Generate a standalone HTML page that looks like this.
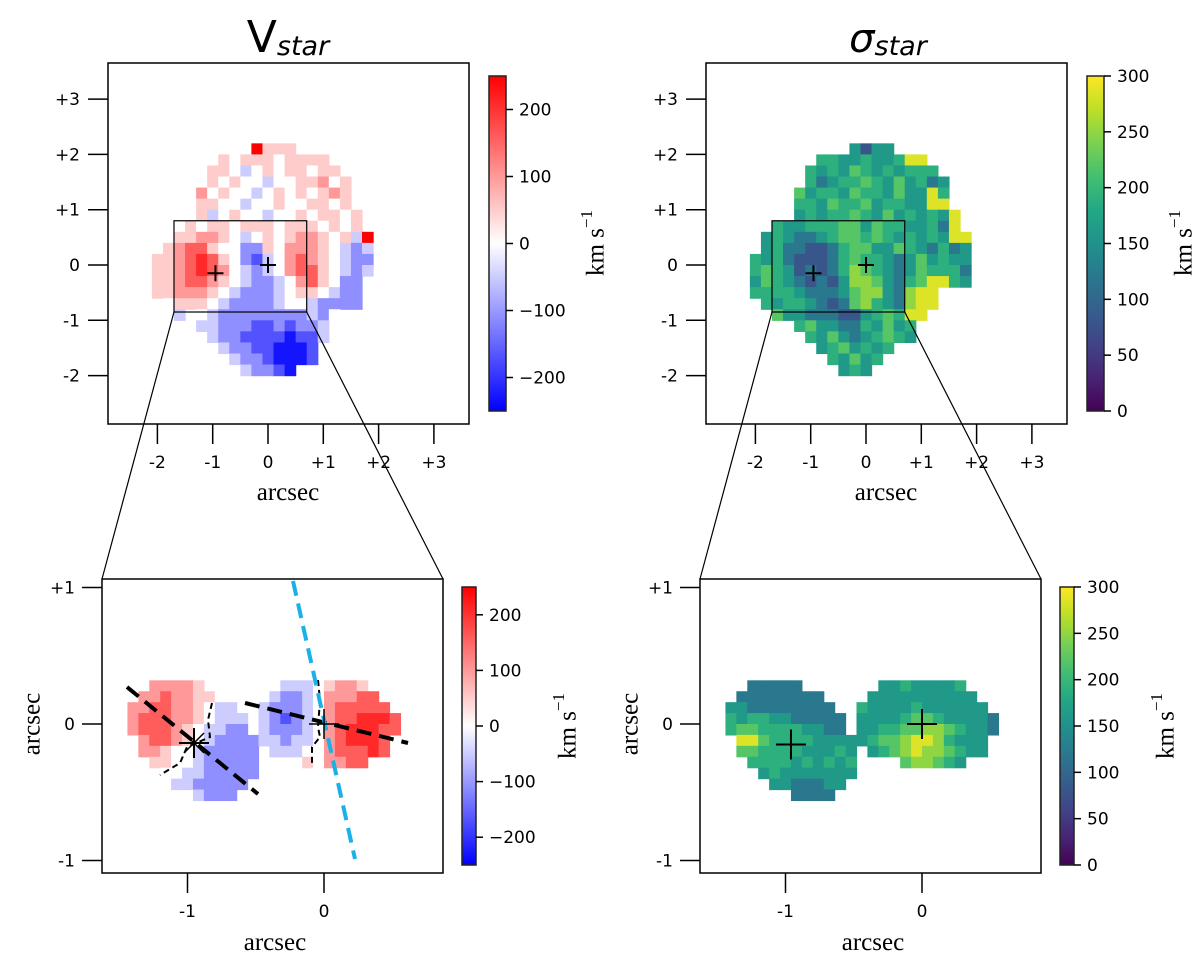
<!DOCTYPE html>
<html><head><meta charset="utf-8"><style>
html,body{margin:0;padding:0;background:#fff;}
svg{display:block;}
.tk{font-family:"DejaVu Sans","Liberation Sans",sans-serif;font-size:17px;fill:#000;}
.lab{font-family:"Liberation Serif","DejaVu Serif",serif;font-size:25px;fill:#000;}
</style></head><body>
<svg id="fig" width="1200" height="965" viewBox="0 0 1200 965" xmlns="http://www.w3.org/2000/svg">
<defs>
<linearGradient id="bwr" x1="0" y1="1" x2="0" y2="0"><stop offset="0" stop-color="#0000ff"/><stop offset="0.5" stop-color="#ffffff"/><stop offset="1" stop-color="#ff0000"/></linearGradient>
<linearGradient id="vir" x1="0" y1="1" x2="0" y2="0">
<stop offset="0" stop-color="#440154"/><stop offset="0.1" stop-color="#482475"/><stop offset="0.2" stop-color="#414487"/><stop offset="0.3" stop-color="#355f8d"/><stop offset="0.4" stop-color="#2a788e"/><stop offset="0.5" stop-color="#21918c"/><stop offset="0.6" stop-color="#22a884"/><stop offset="0.7" stop-color="#44bf70"/><stop offset="0.8" stop-color="#7ad151"/><stop offset="0.9" stop-color="#bddf26"/><stop offset="1" stop-color="#fde725"/></linearGradient>
</defs>
<text x="288" y="52" text-anchor="middle" style="font-family:'DejaVu Sans',sans-serif;font-size:44px">V<tspan font-size="27" font-style="italic" dy="3">star</tspan></text>
<text x="888" y="52" text-anchor="middle" style="font-family:'DejaVu Sans',sans-serif;font-size:40px"><tspan font-style="italic">σ</tspan><tspan font-size="27" font-style="italic" dy="3">star</tspan></text>
<g id="layer"></g>
</svg>
<script>
// ---- data ----
const velLevels = {D:-230,C:-170,B:-110,A:-50,'0':0,a:50,b:100,c:160,d:210,e:250};
const sigLevels = {'1':80,'2':120,'3':160,'4':190,'5':220,'6':250,'7':285};
const velTopGrid = [
".........eaaa.......",
"......a0aaa0aaaa....",
".....aa0A0a0aa0aa...",
".....a0a00A00aab0a..",
"....b0a00A0a0a0aba..",
"....aa00A00a00aa0a..",
"....aA0a00A00a0aa0a.",
"..0a0aa0aaa0aaa0a0a.",
".0aabba0A0a0abba0aAe",
".abcca00BBa0bbba0ABA",
"aabcdca0BCA0bcba0ABB",
"aabcdcb0ABA0bcca0ABA",
"aabccba0ABBA0bca0BB.",
"aabbba0ABBBA0aa0ABB.",
".0aaa0ABBBBA00ABBBB.",
"..A.0ABBBBBBBBAB0...",
"....AABBBCCBCBBA....",
".....ABBCCCCDCCA....",
"......ABBCCDDDC.....",
".......ABBCDDDC.....",
"........ABBCD......."];
const sigTopGrid = [
".........3133.......",
"......4433433477....",
".....434354343444...",
".....4234454353423..",
"....53443544353374..",
"....44354453443377..",
"....343445435343437.",
"..43344455354433427.",
".3432234554543434377",
".3422112455335432423",
"43421112454432353433",
"45431212465432354442",
"35432121366532457743",
"44443222356632677...",
".4344321256432677...",
"..53322211345477....",
"....45332243534.....",
".....4353234543.....",
"......3453434.......",
".......43534........",
"........343........."];
const velBotGrid = [
"..bbbba.......AAA0abba...",
".bbcbbaa0....ABBA0bbbcc..",
"bbccbba0AA..ABBBA0bccccc.",
"bcccbba0AAA.ABCBA0bccdddc",
"bcccba0AABB.ABBBA0bcdddcc",
".bccba0ABBBBAABAA0bcdddc.",
".bba00ABBBBB.AAA00bcccdc.",
"..aa00ABBBBB....a0bbcc...",
"...00AABBBBB.............",
"....AABBBBB..............",
"......ABBB..............."];
const sigBotGrid = [
"..22222.......33433334...",
".22222222....3333333333..",
"3322222222..433334333333.",
"43443322222.3333455433332",
"45544443322.3344556654332",
".77544443333345567764333.",
".55444433343.34567665433.",
"..4444343434....566543...",
"...343333333.............",
"....3322233..............",
"......2222..............."];
const velTicks = [-200,-100,0,100,200];
const velTickLabels = ["\u2212200","\u2212100","0","100","200"];
const sigTicks = [0,50,100,150,200,250,300];
const sigTickLabels = ["0","50","100","150","200","250","300"];
const topAxisTicks = [-2,-1,0,1,2,3];
const topAxisLabels = ["-2","-1","0","+1","+2","+3"];
const botAxisXTicks = [-1,0];
const botAxisXLabels = ["-1","0"];
const botAxisYTicks = [1,0,-1];
const botAxisYLabels = ["+1","0","-1"];

// ---- helpers ----
const NS="http://www.w3.org/2000/svg";
const layer=document.getElementById('layer');
function mk(tag,attrs,parent){const e=document.createElementNS(NS,tag);for(const k in attrs)e.setAttribute(k,attrs[k]);(parent||layer).appendChild(e);return e;}
const virStops=["#440154","#482475","#414487","#355f8d","#2a788e","#21918c","#22a884","#44bf70","#7ad151","#bddf26","#fde725"].map(h=>[parseInt(h.substr(1,2),16),parseInt(h.substr(3,2),16),parseInt(h.substr(5,2),16)]);
function viridis(v){let t=Math.max(0,Math.min(1,v/300))*10;const i=Math.min(9,Math.floor(t));const f=t-i;const a=virStops[i],b=virStops[i+1];return `rgb(${Math.round(a[0]+(b[0]-a[0])*f)},${Math.round(a[1]+(b[1]-a[1])*f)},${Math.round(a[2]+(b[2]-a[2])*f)})`;}
function bwr(v){let t=Math.max(-1,Math.min(1,v/250));if(t<0){const w=Math.round(255*(1+t));return `rgb(${w},${w},255)`;}const w=Math.round(255*(1-t));return `rgb(255,${w},${w})`;}

function drawGrid(g,grid,levels,cmap,x0,y0,cell,sx,sy,name){
  grid.forEach((row,r)=>{for(let c=0;c<row.length;c++){const ch=row[c];if(!(ch in levels))continue;
    const x=sx(x0+cell*c), y=sy(y0-cell*r);
    const el=mk('rect',{x:x.toFixed(2),y:y.toFixed(2),width:(sx(cell)-sx(0)+0.6).toFixed(2),height:(sy(0)-sy(cell)+0.6).toFixed(2),fill:cmap(levels[ch])},g);
    
    
  }});
}
function cross(g,x,y,s,w){mk('path',{d:`M${x-s},${y}H${x+s}M${x},${y-s}V${y+s}`,stroke:'#000','stroke-width':w,fill:'none'},g);}

// ---- top panels ----
function topPanel(offset,grid,levels,cmap,gradId,ticks,tickLabels,vmin,vmax,nm,labX){
  const cx=268+offset, cy=265, s=55.3;
  const sx=x=>cx+s*x, sy=y=>cy-s*y;
  const g=mk('g',{});
  
  
  drawGrid(g,grid,levels,cmap,-2.1,2.2,0.2,sx,sy,nm+'-pixel');
  const box=mk('rect',{x:108+offset,y:63,width:361,height:361,fill:'none',stroke:'#000','stroke-width':1.5},g);
  
  topAxisTicks.forEach((t,i)=>{
    mk('line',{x1:sx(t),y1:424,x2:sx(t),y2:444,stroke:'#000','stroke-width':1.5},g);
    const tx=mk('text',{x:sx(t),y:468,'text-anchor':'middle',class:'tk'},g);tx.textContent=topAxisLabels[i];
    
    mk('line',{x1:108+offset,y1:sy(t),x2:88+offset,y2:sy(t),stroke:'#000','stroke-width':1.5},g);
    const ty=mk('text',{x:80+offset,y:sy(t)+6,'text-anchor':'end',class:'tk'},g);ty.textContent=topAxisLabels[i];
    
  });
  const xl=mk('text',{x:288+offset,y:500,'text-anchor':'middle',class:'lab'},g);xl.textContent='arcsec';
  
  cross(g,sx(-0.95),sy(-0.15),8,2);cross(g,sx(0),sy(0),8,2);
  const zr=mk('rect',{x:sx(-1.7),y:sy(0.8),width:sx(0.7)-sx(-1.7),height:sy(-0.85)-sy(0.8),fill:'none',stroke:'#000','stroke-width':1.2},g);
  
  mk('line',{x1:sx(-1.7),y1:sy(-0.85),x2:102+offset,y2:579,stroke:'#000','stroke-width':1.2},g);
  mk('line',{x1:sx(0.7),y1:sy(-0.85),x2:443+offset,y2:579,stroke:'#000','stroke-width':1.2},g);
  colorbar(g,489+offset,76,17,335,gradId,ticks,tickLabels,vmin,vmax,labX,243,nm);
}
function colorbar(g,x,y,w,h,gradId,ticks,labels,vmin,vmax,lx,ly,nm){
  const cb=mk('rect',{x:x,y:y,width:w,height:h,fill:`url(#${gradId})`,stroke:'#222','stroke-width':1.5},g);
  
  ticks.forEach((t,i)=>{const yy=y+h-(t-vmin)/(vmax-vmin)*h;
    mk('line',{x1:x+w,y1:yy,x2:x+w+7,y2:yy,stroke:'#000','stroke-width':1.5},g);
    const tx=mk('text',{x:x+w+13,y:yy+6,class:'tk'},g);tx.textContent=labels[i];
    });
  const t=mk('text',{x:lx,y:ly,transform:`rotate(-90 ${lx} ${ly})`,'text-anchor':'middle',class:'lab','dominant-baseline':'central'},g);
  t.innerHTML='km s<tspan dy="-10" font-size="17">\u22121</tspan>';
  
}
topPanel(0,velTopGrid,velLevels,bwr,'bwr',velTicks,velTickLabels,-250,250,'vstar-top',596);
topPanel(598,sigTopGrid,sigLevels,viridis,'vir',sigTicks,sigTickLabels,0,300,'sigma-top',1184);

// ---- bottom panels ----
function botPanel(offset,grid,levels,cmap,gradId,ticks,tickLabels,vmin,vmax,nm,isVel){
  const cx=324+offset, cy=724, s=136.5;
  const sx=x=>cx+s*x, sy=y=>cy-s*y;
  const g=mk('g',{});
  
  
  drawGrid(g,grid,levels,cmap,-1.44,0.32,0.08,sx,sy,nm+'-pixel');
  if(isVel){
    mk('polyline',{points:'212,703 208,720 210,737 187,747 180,763 160,775',fill:'none',stroke:'#000','stroke-width':2,'stroke-dasharray':'6,4'},g);
    mk('polyline',{points:'318,680 320,700 318,727 320,737 312,747 312,763',fill:'none',stroke:'#000','stroke-width':2,'stroke-dasharray':'6,4'},g);
    const l1=mk('line',{x1:127,y1:687,x2:258,y2:794,stroke:'#000','stroke-width':4,'stroke-dasharray':'15,8'},g);
    
    const l2=mk('line',{x1:245,y1:703,x2:408,y2:743,stroke:'#000','stroke-width':4,'stroke-dasharray':'15,8'},g);
    
    const l3=mk('line',{x1:293,y1:581,x2:355,y2:859,stroke:'#1ab0e8','stroke-width':4,'stroke-dasharray':'15,8'},g);
    
    cross(g,194,743,15,2);mk('path',{d:'M184,733L204,753M184,753L204,733',stroke:'#000','stroke-width':1.5},g);
    cross(g,324,724,15,1.5);
  } else {
    cross(g,sx(-0.96),sy(-0.15),15,2);cross(g,sx(0),sy(0),15,2);
  }
  const box=mk('rect',{x:102+offset,y:579,width:341,height:294,fill:'none',stroke:'#000','stroke-width':1.5},g);
  
  botAxisXTicks.forEach((t,i)=>{mk('line',{x1:sx(t),y1:873,x2:sx(t),y2:893,stroke:'#000','stroke-width':1.5},g);
    const tx=mk('text',{x:sx(t),y:917,'text-anchor':'middle',class:'tk'},g);tx.textContent=botAxisXLabels[i];
    });
  botAxisYTicks.forEach((t,i)=>{mk('line',{x1:102+offset,y1:sy(t),x2:82+offset,y2:sy(t),stroke:'#000','stroke-width':1.5},g);
    const ty=mk('text',{x:75+offset,y:sy(t)+6,'text-anchor':'end',class:'tk'},g);ty.textContent=botAxisYLabels[i];
    });
  const xl=mk('text',{x:275+offset,y:950,'text-anchor':'middle',class:'lab'},g);xl.textContent='arcsec';
  
  const yl=mk('text',{x:32+offset,y:724,'text-anchor':'middle','dominant-baseline':'central',transform:`rotate(-90 ${32+offset} 724)`,class:'lab'},g);yl.textContent='arcsec';
  
  colorbar(g,462+offset,587,14,278,gradId,ticks,tickLabels,vmin,vmax,568+offset,726,nm);
}
botPanel(0,velBotGrid,velLevels,bwr,'bwr',velTicks,velTickLabels,-250,250,'vstar-zoom',true);
botPanel(598,sigBotGrid,sigLevels,viridis,'vir',sigTicks,sigTickLabels,0,300,'sigma-zoom',false);
</script>
</body></html>
